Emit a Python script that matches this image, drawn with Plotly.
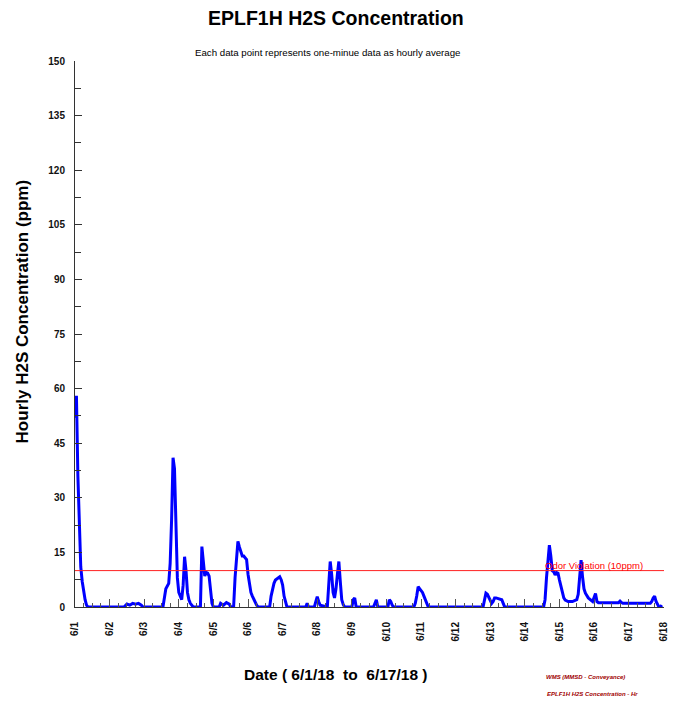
import pandas as pd
import plotly.graph_objects as go

# Hours since 2018-06-01 00:00 and hourly average H2S (ppm)
hours = [0, 1, 2, 3, 4, 5, 6, 7, 8, 9,
         34, 36, 38, 40, 42, 44, 46, 47,
         61, 62, 63, 65, 66, 67, 68, 69, 70, 71, 72, 73, 74, 75, 76, 77, 78, 79, 80, 82,
         87, 88, 89, 90, 91, 92, 93, 94, 95, 96,
         100, 101, 103, 105, 107, 108,
         110, 111, 112, 113, 114, 115, 116, 117, 118, 119, 120, 121, 122, 123, 124, 126, 127,
         135, 136, 137, 138, 139, 141, 142, 143, 144, 145, 146, 147,
         160, 161, 162,
         166, 167, 168, 169, 170, 175, 176, 177, 178, 179, 180, 181, 182, 183, 184, 185, 186, 187,
         192, 193, 194, 195,
         207, 208, 209, 210,
         217, 218, 219, 220, 221,
         235, 236, 237, 238, 239, 240, 241, 242, 243, 244, 245,
         283, 284, 285, 286, 287, 288, 289, 290, 291, 292, 294, 296, 297, 298,
         325, 326, 327, 328, 329, 330, 331, 332, 333, 334, 335, 336, 337, 338, 339, 340, 342,
         345, 348, 349, 350, 351, 352, 353, 354, 356, 359, 360, 361, 362, 363,
         377, 378, 379, 380, 399, 400, 401, 402, 403, 404, 405, 406, 407]
h2s_ppm = [52, 58, 36, 22, 11, 7, 4, 2, 0.5, 0,
           0, 0.8, 0.5, 1, 0.8, 1, 0.5, 0,
           0, 3, 5, 6.5, 12, 24, 41, 38, 22, 8, 4, 3, 2, 6, 13.8, 10, 4, 2, 1, 0,
           0, 16.6, 12, 8.5, 9.5, 9.3, 8.5, 5, 1, 0,
           0, 1, 0.5, 1.2, 0.8, 0,
           0, 8, 14, 18, 16.5, 15, 14, 14, 13.5, 13, 9, 6, 4, 3, 2, 0.5, 0,
           0, 3, 5, 6.5, 7.4, 8, 8.3, 7.5, 6, 3, 1, 0,
           0, 1, 0,
           0, 1.5, 2.8, 1.5, 0.5, 0, 6, 12.5, 9, 4, 2.5, 5, 9, 12.5, 7, 2, 0.7, 0,
           0, 2, 2.5, 0,
           0, 1, 2, 0,
           0, 2, 1.5, 0.5, 0,
           0, 1, 3, 5.6, 5, 4.4, 4, 3, 2, 1.5, 0,
           0, 2, 3.8, 3.5, 2.5, 2, 1, 1.5, 2.5, 2.5, 2.2, 2, 1, 0,
           0, 2, 8, 14, 17, 14, 10, 9.7, 8.8, 9.5, 9.3, 7.4, 5.5, 3.8, 2.5, 1.9, 1.5,
           1.5, 2, 3.5, 8, 12.9, 8.3, 5, 3.8, 2.5, 1.5, 2.5, 3.7, 1.5, 1.2,
           1.2, 1.6, 1.2, 1, 1, 1.5, 2.5, 3, 1.5, 0.5, 0, 0, 0.5]

tick_dates = pd.date_range("2018-06-01", "2018-06-18", freq="D")
tick_labels = ["6/1", "6/2", "6/3", "6/4", "6/5", "6/6", "6/7", "6/8", "6/9",
               "6/10", "6/11", "6/12", "6/13", "6/14", "6/15", "6/16", "6/17", "6/18"]
y_ticks = [0, 15, 30, 45, 60, 75, 90, 105, 120, 135, 150]
odor_limit = 10

start = pd.Timestamp("2018-06-01")
times = [start + pd.Timedelta(hours=h) for h in hours]

SANS = "Liberation Sans, Arial, sans-serif"

fig = go.Figure()
fig.add_trace(go.Scatter(x=times, y=h2s_ppm, mode="lines",
                         line=dict(color="#0000FF", width=3), hoverinfo="x+y",
                         showlegend=False))

fig.add_shape(type="line", xref="paper", x0=0, x1=1, yref="y", y0=odor_limit, y1=odor_limit,
              line=dict(color="#FF2020", width=1))

fig.update_layout(
    width=673, height=703,
    margin=dict(l=75, r=4, t=61, b=96),
    paper_bgcolor="white", plot_bgcolor="white",
    showlegend=False,
    xaxis=dict(
        type="date",
        range=[tick_dates[0], tick_dates[-1] + pd.Timedelta(minutes=30)],
        tickmode="array", tickvals=list(tick_dates), ticktext=tick_labels,
        tickangle=-90,
        ticks="inside", ticklen=8, tickcolor="#555555", tickwidth=1,
        minor=dict(dtick=6 * 3600 * 1000, ticks="inside", ticklen=4,
                   tickcolor="#555555", showgrid=False),
        showline=True, linecolor="#333333", linewidth=1,
        showgrid=False, zeroline=False,
        tickfont=dict(family=SANS, size=10, color="#111111", weight="bold"),
        ticklabelstandoff=10,
        ticklabeloverflow="allow",
    ),
    yaxis=dict(
        range=[0, 150],
        tickmode="array", tickvals=y_ticks,
        ticks="inside", ticklen=7, tickcolor="#333333", tickwidth=1,
        minor=dict(dtick=7.5, ticks="inside", ticklen=6, tickcolor="#333333", showgrid=False),
        showline=True, linecolor="#333333", linewidth=1,
        showgrid=False, zeroline=False,
        tickfont=dict(family=SANS, size=10, color="#111111", weight="bold"),
        ticklabelstandoff=7,
    ),
    annotations=[
        dict(text="<b>EPLF1H H2S Concentration</b>", xref="paper", yref="paper",
             x=0.443, y=1.079, xanchor="center", yanchor="middle", showarrow=False,
             font=dict(family=SANS, size=19.5, color="#000000")),
        dict(text="Each data point represents one-minue data as hourly average",
             xref="paper", yref="paper", x=0.43, y=1.0147, xanchor="center",
             yanchor="middle", showarrow=False,
             font=dict(family=SANS, size=9.7, color="#000000")),
        dict(text="<b>Hourly H2S Concentration (ppm)</b>", xref="paper", yref="paper",
             x=-0.0894, y=0.542, xanchor="center", yanchor="middle", textangle=-90,
             showarrow=False, font=dict(family=SANS, size=17, color="#000000")),
        dict(text="<b>Date ( 6/1/18  to  6/17/18 )</b>", xref="paper", yref="paper",
             x=0.4435, y=-0.1245, xanchor="center", yanchor="middle", showarrow=False,
             font=dict(family=SANS, size=15.5, color="#000000")),
        dict(text="<b><i>WMS (MMSD - Conveyance)</i></b>", xref="paper", yref="paper",
             x=0.8668, y=-0.128, xanchor="center", yanchor="middle", showarrow=False,
             font=dict(family=SANS, size=6, color="#A00000")),
        dict(text="<b><i>EPLF1H H2S Concentration - Hr</i></b>", xref="paper", yref="paper",
             x=0.8786, y=-0.159, xanchor="center", yanchor="middle", showarrow=False,
             font=dict(family=SANS, size=6, color="#A00000")),
        dict(text="Odor Violation (10ppm)", xref="x", yref="y",
             x=start + pd.Timedelta(hours=324.8), y=odor_limit, xanchor="left",
             yanchor="bottom", yshift=-2, showarrow=False,
             font=dict(family=SANS, size=9.5, color="#FF0000")),
    ],
)

# Remove the browser's default 8px page margin so the figure fills the window
fig.write_html("out.html", config={"displayModeBar": False},
               post_script="document.body.style.margin='0';")
